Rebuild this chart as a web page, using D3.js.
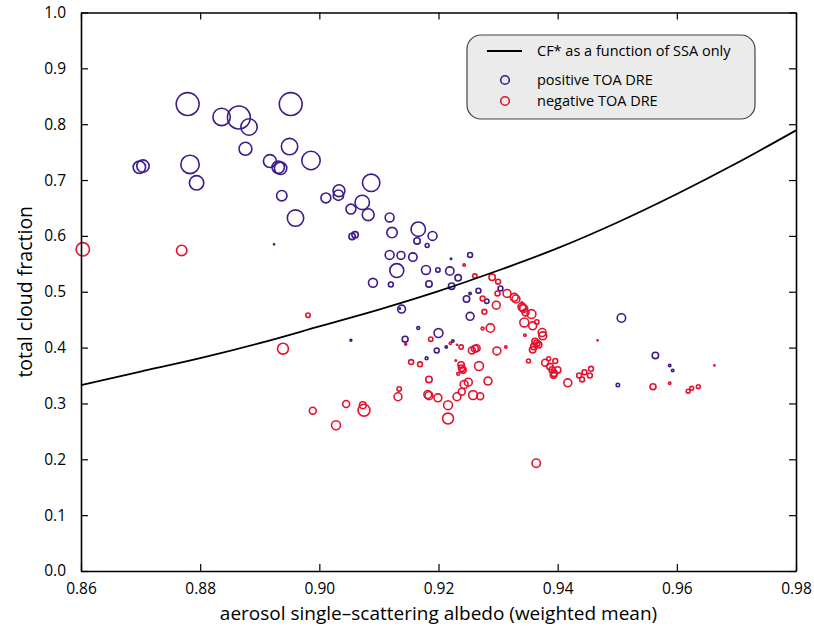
<!DOCTYPE html>
<html>
<head>
<meta charset="utf-8">
<script src="https://cdn.jsdelivr.net/npm/d3@7"></script>
<style>
  body { margin: 0; background: #fff; }
  svg text { font-family: "Open Sans", "DejaVu Sans", sans-serif; fill: #000; }
</style>
</head>
<body>
<div id="chart"></div>
<script>
// tick labels
var xTicks = [0.86, 0.88, 0.90, 0.92, 0.94, 0.96, 0.98];
var yTicks = [0.0, 0.1, 0.2, 0.3, 0.4, 0.5, 0.6, 0.7, 0.8, 0.9, 1.0];

// CF* as a function of SSA only
var curveSSA = [0.86, 0.87, 0.88, 0.89, 0.90, 0.91, 0.92, 0.93, 0.94, 0.95, 0.96, 0.97, 0.98];
var curveCF  = [0.333, 0.357, 0.381, 0.408, 0.438, 0.468, 0.501, 0.538, 0.578, 0.624, 0.675, 0.730, 0.789];

// positive TOA DRE : ssa, cloud fraction, relative weight
var posSSA = [0.8779, 0.8698, 0.8704, 0.8783, 0.8794, 0.8836, 0.8865, 0.8882, 0.8876, 0.8917,
  0.8931, 0.8935, 0.8952, 0.8950, 0.8986, 0.8937, 0.8960, 0.9011, 0.9033, 0.9032,
  0.9053, 0.9072, 0.9055, 0.9060, 0.8924, 0.9087, 0.9082, 0.9118, 0.9122, 0.9166,
  0.9190, 0.9164, 0.9181, 0.9118, 0.9137, 0.9157, 0.9130, 0.9179, 0.9199, 0.9219,
  0.9233, 0.9222, 0.9184, 0.9120, 0.9090, 0.9253, 0.9221, 0.9304, 0.9267, 0.9253,
  0.9247, 0.9281, 0.9253, 0.9138, 0.9135, 0.9166, 0.9200, 0.9144, 0.9197, 0.9213,
  0.9224, 0.9180, 0.9507, 0.9564, 0.9588, 0.9593, 0.9501, 0.9053];
var posCF = [0.836, 0.723, 0.725, 0.728, 0.695, 0.813, 0.812, 0.795, 0.756, 0.734,
  0.723, 0.721, 0.836, 0.760, 0.735, 0.672, 0.632, 0.668, 0.681, 0.673,
  0.648, 0.660, 0.599, 0.602, 0.585, 0.695, 0.638, 0.633, 0.606, 0.612,
  0.600, 0.591, 0.583, 0.566, 0.565, 0.562, 0.538, 0.539, 0.539, 0.537,
  0.525, 0.510, 0.514, 0.513, 0.516, 0.566, 0.559, 0.506, 0.502, 0.497,
  0.487, 0.483, 0.456, 0.469, 0.470, 0.435, 0.426, 0.415, 0.395, 0.401,
  0.412, 0.381, 0.453, 0.386, 0.368, 0.359, 0.333, 0.413];
var posW = [0.98, 0.56, 0.56, 0.80, 0.64, 0.76, 0.98, 0.72, 0.58, 0.58,
  0.56, 0.56, 0.98, 0.72, 0.80, 0.48, 0.72, 0.46, 0.54, 0.48,
  0.46, 0.64, 0.32, 0.32, 0.08, 0.76, 0.54, 0.42, 0.48, 0.64,
  0.42, 0.32, 0.22, 0.42, 0.38, 0.40, 0.62, 0.42, 0.24, 0.40,
  0.32, 0.32, 0.32, 0.26, 0.42, 0.26, 0.12, 0.26, 0.26, 0.16,
  0.32, 0.24, 0.38, 0.38, 0.12, 0.18, 0.42, 0.30, 0.26, 0.16,
  0.16, 0.18, 0.40, 0.32, 0.16, 0.16, 0.20, 0.14];

// negative TOA DRE
var negSSA = [0.8603, 0.8769, 0.9243, 0.9261, 0.9290, 0.9300, 0.9299, 0.9315, 0.9327, 0.9330,
  0.9340, 0.9343, 0.9356, 0.9344, 0.9358, 0.9365, 0.9374, 0.9375, 0.9345, 0.9274,
  0.9297, 0.9277, 0.9287, 0.9274, 0.9145, 0.9187, 0.9220, 0.9231, 0.9238, 0.9256,
  0.9261, 0.9264, 0.9298, 0.9313, 0.9154, 0.9169, 0.9229, 0.9238, 0.9239, 0.9241,
  0.9268, 0.9233, 0.9184, 0.9250, 0.9243, 0.9283, 0.9134, 0.9132, 0.9182, 0.9184,
  0.9199, 0.9239, 0.9231, 0.9258, 0.9270, 0.9216, 0.9216, 0.9364, 0.9340, 0.9341,
  0.9346, 0.9362, 0.9365, 0.9368, 0.9360, 0.9358, 0.9351, 0.9379, 0.9385, 0.9396,
  0.9387, 0.9391, 0.9394, 0.9393, 0.9400, 0.9417, 0.9436, 0.9441, 0.9445, 0.9454,
  0.9456, 0.9467, 0.9663, 0.9560, 0.9588, 0.9619, 0.9625, 0.9636, 0.8981, 0.8939,
  0.9045, 0.8989, 0.9073, 0.9075, 0.9028];
var negCF = [0.576, 0.574, 0.548, 0.528, 0.526, 0.518, 0.497, 0.497, 0.490, 0.487,
  0.473, 0.470, 0.460, 0.445, 0.439, 0.446, 0.427, 0.421, 0.422, 0.488,
  0.476, 0.464, 0.435, 0.434, 0.406, 0.415, 0.408, 0.405, 0.401, 0.395,
  0.398, 0.399, 0.394, 0.401, 0.374, 0.370, 0.377, 0.369, 0.363, 0.360,
  0.367, 0.353, 0.343, 0.338, 0.334, 0.340, 0.326, 0.312, 0.316, 0.314,
  0.310, 0.321, 0.312, 0.315, 0.313, 0.297, 0.273, 0.193, 0.481, 0.471,
  0.463, 0.411, 0.408, 0.405, 0.402, 0.396, 0.376, 0.373, 0.380, 0.376,
  0.366, 0.360, 0.354, 0.351, 0.360, 0.337, 0.350, 0.343, 0.356, 0.350,
  0.362, 0.413, 0.368, 0.330, 0.336, 0.322, 0.327, 0.330, 0.458, 0.398,
  0.299, 0.287, 0.297, 0.288, 0.261];
var negW = [0.60, 0.48, 0.16, 0.24, 0.32, 0.26, 0.26, 0.38, 0.38, 0.38,
  0.38, 0.38, 0.42, 0.42, 0.38, 0.24, 0.38, 0.38, 0.16, 0.26,
  0.38, 0.26, 0.40, 0.18, 0.14, 0.24, 0.16, 0.10, 0.24, 0.34,
  0.34, 0.34, 0.38, 0.16, 0.26, 0.26, 0.12, 0.32, 0.32, 0.32,
  0.42, 0.18, 0.32, 0.38, 0.38, 0.38, 0.24, 0.38, 0.38, 0.38,
  0.38, 0.34, 0.38, 0.42, 0.34, 0.42, 0.50, 0.40, 0.10, 0.34,
  0.34, 0.32, 0.32, 0.32, 0.32, 0.32, 0.22, 0.34, 0.22, 0.26,
  0.32, 0.32, 0.32, 0.32, 0.32, 0.38, 0.26, 0.26, 0.26, 0.26,
  0.26, 0.10, 0.10, 0.30, 0.16, 0.22, 0.22, 0.22, 0.24, 0.50,
  0.34, 0.34, 0.34, 0.54, 0.42];

var posColor = "#3f1a8a";
var negColor = "#e5122e";

var W = 814, H = 629;
var margin = {top: 12.5, right: 18, bottom: 58, left: 81};
var width = W - margin.left - margin.right;
var height = H - margin.top - margin.bottom;

var svg = d3.select("#chart").append("svg")
    .attr("width", W)
    .attr("height", H);

var g = svg.append("g")
    .attr("transform", "translate(" + margin.left + "," + margin.top + ")");

var x = d3.scaleLinear().domain([0.86, 0.98]).range([0, width]);
var y = d3.scaleLinear().domain([0, 1]).range([height, 0]);
var r = d3.scaleLinear().domain([0, 1]).range([0, 12.5]);

// points
var pos = posSSA.map(function(d, i) { return {x: d, y: posCF[i], w: posW[i]}; });
var neg = negSSA.map(function(d, i) { return {x: d, y: negCF[i], w: negW[i]}; });

g.append("g").selectAll("circle")
    .data(pos)
    .enter().append("circle")
    .attr("cx", function(d) { return x(d.x); })
    .attr("cy", function(d) { return y(d.y); })
    .attr("r", function(d) { return Math.max(r(d.w) - 0.8, 0.6); })
    .attr("fill", function(d) { return d.w < 0.15 ? posColor : "none"; })
    .attr("stroke", posColor)
    .attr("stroke-width", 1.6);

g.append("g").selectAll("circle")
    .data(neg)
    .enter().append("circle")
    .attr("cx", function(d) { return x(d.x); })
    .attr("cy", function(d) { return y(d.y); })
    .attr("r", function(d) { return Math.max(r(d.w) - 0.8, 0.6); })
    .attr("fill", function(d) { return d.w < 0.15 ? negColor : "none"; })
    .attr("stroke", negColor)
    .attr("stroke-width", 1.6);

// CF* curve
var line = d3.line()
    .curve(d3.curveMonotoneX)
    .x(function(d, i) { return x(curveSSA[i]); })
    .y(function(d) { return y(d); });

g.append("path")
    .attr("d", line(curveCF))
    .attr("fill", "none")
    .attr("stroke", "#000")
    .attr("stroke-width", 1.8);

// axes, ticks pointing inward, mirrored on top and right
var fmtX = d3.format(".2f"), fmtY = d3.format(".1f");

var xAxis = g.append("g")
    .attr("transform", "translate(0," + height + ")")
    .call(d3.axisBottom(x).tickValues(xTicks).tickFormat(fmtX).tickSizeInner(-7).tickSizeOuter(0).tickPadding(12));
var xTop = g.append("g")
    .call(d3.axisTop(x).tickValues(xTicks).tickFormat("").tickSizeInner(-7).tickSizeOuter(0));
var yAxis = g.append("g")
    .call(d3.axisLeft(y).tickValues(yTicks).tickFormat(fmtY).tickSizeInner(-7).tickSizeOuter(0).tickPadding(15));
var yRight = g.append("g")
    .attr("transform", "translate(" + width + ",0)")
    .call(d3.axisRight(y).tickValues(yTicks).tickFormat("").tickSizeInner(-7).tickSizeOuter(0));

[xAxis, xTop, yAxis, yRight].forEach(function(a) {
  a.select(".domain").attr("stroke", "#000").attr("stroke-width", 1.6);
  a.selectAll(".tick line").attr("stroke", "#000").attr("stroke-width", 1.2);
  a.selectAll(".tick text").style("font-size", "15.5px").attr("fill", "#000");
});

// axis titles
svg.append("text")
    .attr("x", margin.left + width / 2)
    .attr("y", 620)
    .attr("text-anchor", "middle")
    .style("font-size", "19px")
    .text("aerosol single\u2013scattering albedo (weighted mean)");

svg.append("text")
    .attr("transform", "translate(32," + (margin.top + height / 2) + ") rotate(-90)")
    .attr("text-anchor", "middle")
    .style("font-size", "19.5px")
    .text("total cloud fraction");

// legend
var lg = svg.append("g").attr("transform", "translate(467,35)");
lg.append("rect")
    .attr("width", 288)
    .attr("height", 84)
    .attr("rx", 14)
    .attr("fill", "#ebebeb")
    .attr("stroke", "#444")
    .attr("stroke-width", 1.2);
lg.append("line")
    .attr("x1", 20).attr("x2", 55)
    .attr("y1", 16).attr("y2", 16)
    .attr("stroke", "#000").attr("stroke-width", 1.8);
lg.append("text").attr("x", 70).attr("y", 21).style("font-size", "14.5px")
    .text("CF* as a function of SSA only");
lg.append("circle").attr("cx", 38).attr("cy", 45).attr("r", 4.3)
    .attr("fill", "none").attr("stroke", posColor).attr("stroke-width", 1.6);
lg.append("text").attr("x", 70).attr("y", 50).style("font-size", "14.5px")
    .text("positive TOA DRE");
lg.append("circle").attr("cx", 38).attr("cy", 66).attr("r", 4.3)
    .attr("fill", "none").attr("stroke", negColor).attr("stroke-width", 1.6);
lg.append("text").attr("x", 70).attr("y", 71).style("font-size", "14.5px")
    .text("negative TOA DRE");
</script>
</body>
</html>
